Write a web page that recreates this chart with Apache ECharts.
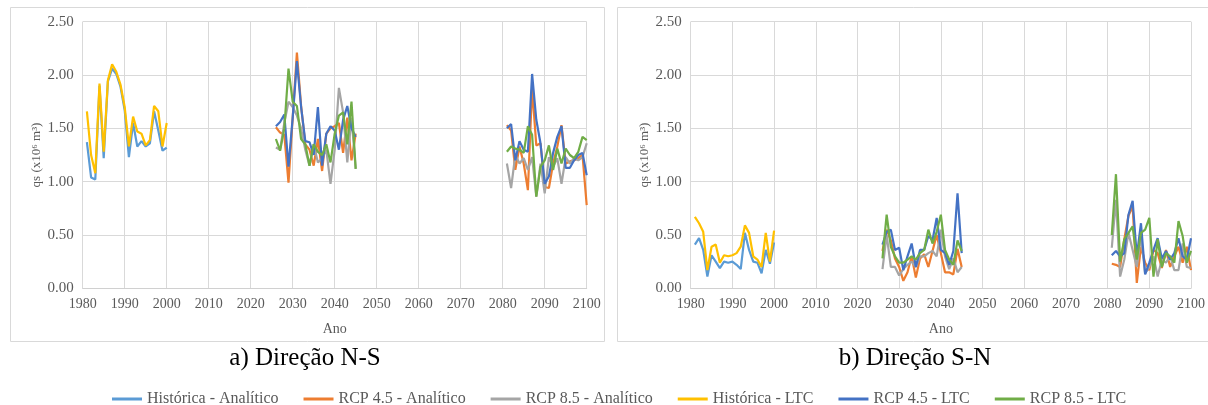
<!DOCTYPE html>
<html>
<head>
<meta charset="utf-8">
<script src="https://cdn.jsdelivr.net/npm/echarts@6/dist/echarts.min.js"></script>
<style>
html,body{margin:0;padding:0;background:#fff;}
#c{width:1208px;height:405px;}
</style>
</head>
<body>
<div id="c"></div>
<script>
// ---- categories ----
const yearsHist = [1981,1982,1983,1984,1985,1986,1987,1988,1989,1990,1991,1992,1993,1994,1995,1996,1997,1998,1999,2000];
const yearsMid  = [2026,2027,2028,2029,2030,2031,2032,2033,2034,2035,2036,2037,2038,2039,2040,2041,2042,2043,2044,2045];
const yearsEnd  = [2081,2082,2083,2084,2085,2086,2087,2088,2089,2090,2091,2092,2093,2094,2095,2096,2097,2098,2099,2100];
const xTicks = [1980,1990,2000,2010,2020,2030,2040,2050,2060,2070,2080,2090,2100];
const yTicks = [0,0.5,1,1.5,2,2.5];

const seriesNames = ['Histórica - Analítico','RCP 4.5 - Analítico','RCP 8.5 - Analítico','Histórica - LTC','RCP 4.5 - LTC','RCP 8.5 - LTC'];
const panelTitles = ['a) Direção N-S','b) Direção S-N'];

// ---- a) N-S values ----
const nsHistAna = [1.37,1.04,1.02,1.90,1.22,1.94,2.06,2.01,1.89,1.67,1.23,1.55,1.33,1.38,1.33,1.36,1.66,1.48,1.29,1.32];
const nsHistLtc = [1.66,1.25,1.08,1.92,1.28,1.95,2.10,2.03,1.91,1.70,1.33,1.61,1.47,1.45,1.34,1.39,1.71,1.66,1.33,1.55];
const nsR45AnaMid = [1.51,1.46,1.44,0.99,1.60,2.21,1.71,1.35,1.30,1.15,1.40,1.10,1.45,1.50,1.52,1.55,1.27,1.60,1.20,1.45];
const nsR45AnaEnd = [1.53,1.48,1.11,1.33,1.17,0.92,1.88,1.34,1.36,0.95,0.94,1.17,1.33,1.53,1.17,1.19,1.20,1.22,1.25,0.78];
const nsR85AnaMid = [1.32,1.30,1.55,1.75,1.70,1.62,1.50,1.30,1.15,1.35,1.18,1.22,1.30,0.98,1.30,1.88,1.65,1.18,1.60,1.12];
const nsR85AnaEnd = [1.17,0.94,1.25,1.17,1.22,1.11,1.23,0.86,1.17,0.89,1.23,1.14,1.22,0.98,1.23,1.17,1.22,1.20,1.23,1.36];
const nsR45LtcMid = [1.52,1.56,1.63,1.14,1.60,2.13,1.70,1.38,1.37,1.25,1.70,1.15,1.45,1.52,1.48,1.30,1.58,1.71,1.50,1.42];
const nsR45LtcEnd = [1.50,1.54,1.20,1.38,1.30,1.28,2.01,1.58,1.36,0.98,1.05,1.27,1.42,1.52,1.13,1.13,1.20,1.25,1.27,1.06];
const nsR85LtcMid = [1.40,1.29,1.50,2.06,1.75,1.71,1.40,1.35,1.15,1.35,1.28,1.25,1.35,1.18,1.45,1.62,1.65,1.35,1.75,1.12];
const nsR85LtcEnd = [1.28,1.33,1.31,1.30,1.27,1.52,1.44,0.86,1.14,1.20,1.34,1.11,1.31,1.17,1.31,1.25,1.22,1.28,1.42,1.39];

// ---- b) S-N values ----
const snHistAna = [0.41,0.47,0.36,0.11,0.31,0.25,0.19,0.25,0.24,0.25,0.22,0.18,0.52,0.36,0.25,0.24,0.14,0.36,0.23,0.43];
const snHistLtc = [0.67,0.61,0.53,0.17,0.39,0.41,0.24,0.31,0.30,0.31,0.33,0.39,0.59,0.52,0.30,0.27,0.20,0.52,0.25,0.54];
const snR45AnaMid = [0.35,0.55,0.45,0.28,0.20,0.07,0.15,0.30,0.10,0.28,0.32,0.20,0.35,0.50,0.33,0.15,0.15,0.13,0.37,0.20];
const snR45AnaEnd = [0.23,0.22,0.20,0.46,0.68,0.77,0.05,0.39,0.24,0.17,0.36,0.33,0.19,0.36,0.20,0.30,0.39,0.24,0.39,0.17];
const snR85AnaMid = [0.18,0.50,0.20,0.20,0.12,0.18,0.22,0.25,0.20,0.30,0.30,0.33,0.35,0.30,0.55,0.30,0.18,0.28,0.15,0.20];
const snR85AnaEnd = [0.38,0.83,0.11,0.27,0.52,0.36,0.20,0.49,0.14,0.20,0.30,0.11,0.27,0.24,0.30,0.17,0.17,0.42,0.20,0.19];
const snR45LtcMid = [0.41,0.53,0.55,0.36,0.38,0.17,0.30,0.42,0.20,0.36,0.36,0.49,0.45,0.66,0.36,0.33,0.22,0.35,0.89,0.33];
const snR45LtcEnd = [0.31,0.35,0.30,0.33,0.69,0.82,0.30,0.61,0.13,0.24,0.36,0.47,0.28,0.35,0.27,0.33,0.47,0.30,0.27,0.47];
const snR85LtcMid = [0.28,0.69,0.39,0.30,0.24,0.24,0.27,0.30,0.27,0.33,0.36,0.55,0.42,0.53,0.69,0.36,0.27,0.22,0.45,0.35];
const snR85LtcEnd = [0.50,1.07,0.25,0.46,0.52,0.58,0.27,0.52,0.55,0.66,0.11,0.46,0.20,0.33,0.30,0.24,0.63,0.49,0.24,0.35];

const colors = ['#5B9BD5','#ED7D31','#A5A5A5','#FFC000','#4472C4','#70AD47'];

function pairs(years, vals){ return years.map((y,i)=>[y, vals[i]]); }
function twoSeg(mid, end){ return pairs(yearsMid, mid).concat([[2063,'-']], pairs(yearsEnd, end)); }

const panelData = [
  [pairs(yearsHist, nsHistAna), twoSeg(nsR45AnaMid, nsR45AnaEnd), twoSeg(nsR85AnaMid, nsR85AnaEnd),
   pairs(yearsHist, nsHistLtc), twoSeg(nsR45LtcMid, nsR45LtcEnd), twoSeg(nsR85LtcMid, nsR85LtcEnd)],
  [pairs(yearsHist, snHistAna), twoSeg(snR45AnaMid, snR45AnaEnd), twoSeg(snR85AnaMid, snR85AnaEnd),
   pairs(yearsHist, snHistLtc), twoSeg(snR45LtcMid, snR45LtcEnd), twoSeg(snR85LtcMid, snR85LtcEnd)]
];

const FONT = '"Liberation Serif", "Times New Roman", serif';
const grids = [
  {left: 82.7, width: 504, top: 21.7, height: 266.6},
  {left: 690.7, width: 504, top: 21.7, height: 266.6}
];

const xAxes = grids.map((g,i)=>({
  type:'value', gridIndex:i, min:xTicks[0], max:xTicks[xTicks.length-1], interval:10,
  name:'Ano', nameLocation:'middle', nameGap:34,
  nameTextStyle:{fontFamily:FONT, fontSize:14, color:'#595959'},
  axisLine:{show:true, lineStyle:{color:'#D0D0D0', width:1}},
  axisTick:{show:false},
  axisLabel:{fontFamily:FONT, fontSize:14, color:'#595959', margin:9, formatter:v=>String(v)},
  splitLine:{show:true, lineStyle:{color:'#D9D9D9', width:1}}
}));
const yAxes = grids.map((g,i)=>({
  type:'value', gridIndex:i, min:yTicks[0], max:yTicks[yTicks.length-1], interval:0.5,
  name:'qs (x10⁶ m³)', nameLocation:'middle', nameGap:40, nameRotate:90,
  nameTextStyle:{fontFamily:FONT, fontSize:13, color:'#595959'},
  axisLine:{show:false}, axisTick:{show:false},
  axisLabel:{fontFamily:FONT, fontSize:15, color:'#595959', margin:9, formatter:v=>v.toFixed(2)},
  splitLine:{show:true, lineStyle:{color:'#D9D9D9', width:1}}
}));

const series = [];
panelData.forEach((arr, p)=>{
  arr.forEach((data, k)=>{
    series.push({
      name: seriesNames[k], type:'line', xAxisIndex:p, yAxisIndex:p,
      data: data, showSymbol:false, symbol:'none', connectNulls:false,
      lineStyle:{color:colors[k], width:2.2}, itemStyle:{color:colors[k]},
      z: 2 + k
    });
  });
});

const chart = echarts.init(document.getElementById('c'), null, {renderer:'canvas'});
chart.setOption({
  animation:false,
  color: colors,
  grid: grids,
  xAxis: xAxes,
  yAxis: yAxes,
  series: series,
  legend: {
    data: seriesNames, top: 386, left: 107,
    itemWidth: 30, itemHeight: 3, itemGap: 25, icon:'rect',
    textStyle:{fontFamily:FONT, fontSize:16, color:'#595959'}
  },
  graphic: [
    {type:'rect', shape:{x:10.5, y:7.5, width:594, height:334}, style:{fill:'none', stroke:'#D9D9D9', lineWidth:1}, silent:true},
    {type:'rect', shape:{x:617.5, y:7.5, width:600, height:334}, style:{fill:'none', stroke:'#D9D9D9', lineWidth:1}, silent:true},
    {type:'text', x:305, y:358, style:{text:panelTitles[0], font:'25px "Liberation Serif", serif', fill:'#000', textAlign:'center', textVerticalAlign:'middle'}},
    {type:'text', x:915, y:358, style:{text:panelTitles[1], font:'25px "Liberation Serif", serif', fill:'#000', textAlign:'center', textVerticalAlign:'middle'}}
  ]
});
</script>
</body>
</html>
